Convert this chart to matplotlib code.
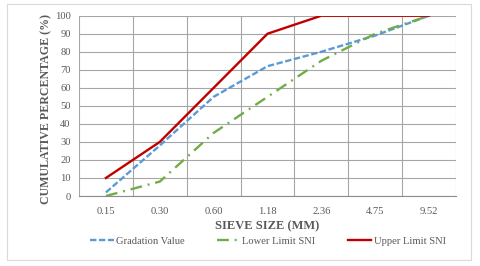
import matplotlib.pyplot as plt
import numpy as np
from matplotlib.patches import Rectangle

sieve = ["0.15", "0.30", "0.60", "1.18", "2.36", "4.75", "9.52"]
gradation = [2, 28, 55, 72, 80, 89, 100]
lower_sni = [0, 8, 35, 55, 75, 90, 100]
upper_sni = [10, 30, 60, 90, 100, 100, 100]

plt.rcParams['font.family'] = ['Liberation Serif', 'DejaVu Serif']

fig = plt.figure(figsize=(4.8, 2.66), dpi=100)
ax = fig.add_axes([79/480, 1-196/266, (456-79)/480, (196-15.7)/266])

x = np.arange(len(sieve))
ax.plot(x, gradation, color='#5b9bd5', lw=1.7, dashes=(2.7, 1.1), label='Gradation Value')
ax.plot(x, lower_sni, color='#70ad47', lw=1.7, dashes=(5, 2.5, 0.8, 2.5), label='Lower Limit SNI')
ax.plot(x, upper_sni, color='#c00000', lw=1.7, label='Upper Limit SNI')

ax.set_xlim(-0.5, len(sieve) - 0.5)
ax.set_ylim(0, 100)
ax.set_yticks(range(0, 101, 10))
ax.set_xticks(x)
ax.set_xticklabels(sieve)
ax.set_xticks(np.arange(-0.5, len(sieve)), minor=True)
ax.tick_params(axis='both', which='both', length=0, labelsize=7.6, colors='#595959')
ax.tick_params(axis='x', pad=8)
ax.tick_params(axis='y', pad=6)
ax.grid(axis='y', which='major', color='#a6a6a6', lw=0.8)
ax.grid(axis='x', which='minor', color='#a6a6a6', lw=0.8)
ax.set_axisbelow(True)
for s in ['top', 'right', 'left']:
    ax.spines[s].set_visible(False)
ax.spines['bottom'].set_color('#8c8c8c')

ax.set_xlabel("SIEVE SIZE (MM)", fontsize=9, fontweight='bold', color='#595959', labelpad=3)
ax.set_ylabel("CUMULATIVE PERCENTAGE (%)", fontsize=8.6, fontweight='bold', color='#595959')
ax.yaxis.set_label_coords(-0.07, 0.48)

fig.legend(loc='center', bbox_to_anchor=(268/480, 1-241/266), ncol=3, frameon=False,
           fontsize=7.6, labelcolor='#595959', handlelength=2.2, columnspacing=3.1, handletextpad=0.2)

fig.patches.append(Rectangle((7/480, 1-260/266), 464/480, 256/266, transform=fig.transFigure,
                             fill=False, edgecolor='#d9d9d9', lw=0.8))

plt.savefig("out.png", dpi=100)
